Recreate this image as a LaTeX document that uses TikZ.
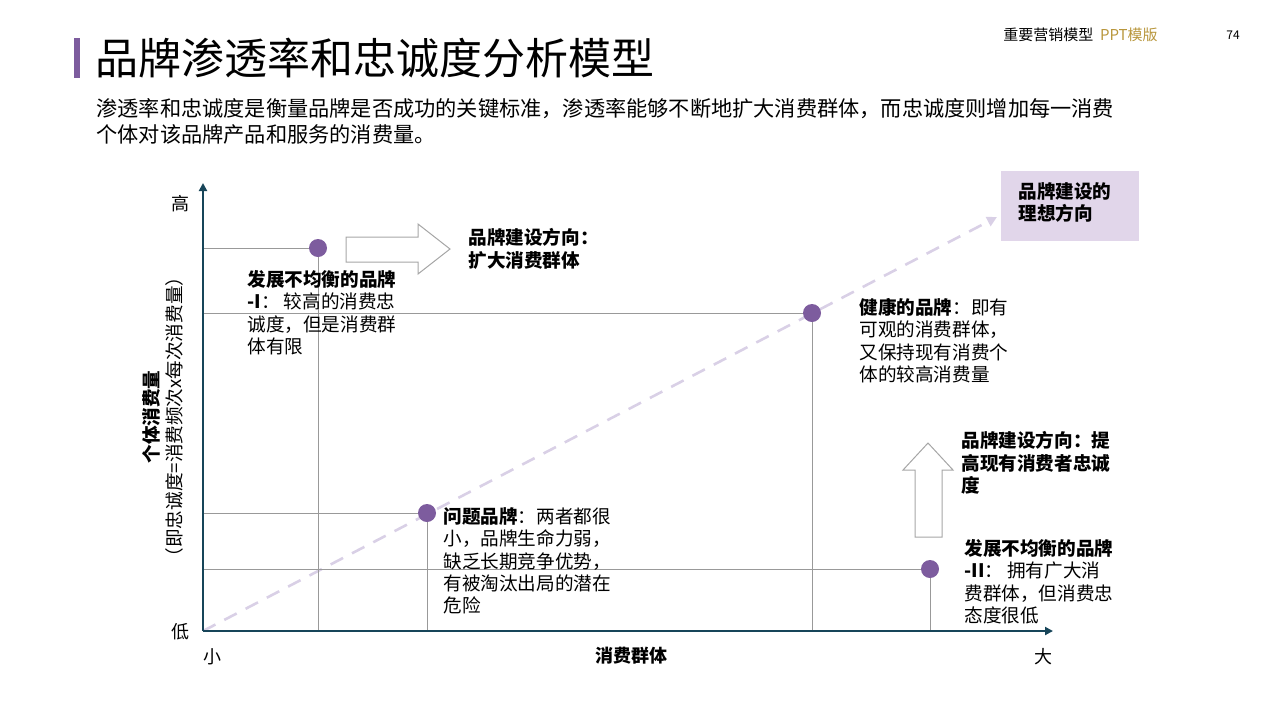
\documentclass[tikz,border=0pt]{standalone}
\usepackage{fontspec}
\setmainfont{Noto Sans CJK SC}
\usepackage{tikz}
\usetikzlibrary{positioning,arrows.meta}
\definecolor{axisblue}{RGB}{23,69,89}
\definecolor{dotpurple}{RGB}{125,92,158}
\definecolor{dashpurple}{RGB}{217,208,230}
\definecolor{boxpurple}{RGB}{225,214,234}
\definecolor{goldtxt}{RGB}{184,150,60}
\tikzset{
  chartpic/.style={x=0.5pt,y=-0.5pt}
  ,dot/.style={circle,fill=dotpurple,inner sep=0pt,minimum size=9pt}
  ,guide/.style={draw=gray!80,line width=.4pt}
  ,axis/.style={draw=axisblue,line width=1.3pt,-{Triangle[length=4pt,width=4pt]}}
  ,note/.style={anchor=north west,inner sep=0pt,align=left,
    font=\fontsize{9.3}{11.2}\selectfont}
  ,blockarrow/.style={draw=gray!70,line width=.5pt,fill=white}
}
\begin{document}
\begin{tikzpicture}[chartpic]
  \useasboundingbox (0,0) rectangle (1280,720);
  % header
  \fill[dotpurple] (74,38) rectangle (80,78);
  \node[anchor=west,inner sep=0pt,font=\fontsize{21.5}{25}\selectfont] (title) at (95,58) {品牌渗透率和忠诚度分析模型};
  \node[anchor=west,inner sep=0pt,font=\fontsize{7.5}{9}\selectfont] (brand) at (1003,35) {重要营销模型\ \ \textcolor{goldtxt}{PPT模版}};
  \node[anchor=west,inner sep=0pt,font=\fontsize{6}{8}\selectfont] (page) at (1226,35) {74};
  \node[anchor=north west,inner sep=0pt,align=left,font=\fontsize{10.6}{13}\selectfont] (intro) at (96,98)
    {渗透率和忠诚度是衡量品牌是否成功的关键标准，渗透率能够不断地扩大消费群体，而忠诚度则增加每一消费\\个体对该品牌产品和服务的消费量。};

  % axes
  \coordinate (origin) at (203,631);
  \coordinate (ytop) at (203,183);
  \coordinate (xend) at (1053,631);
  \coordinate (ideal) at (997,217);
  \draw[dashpurple,line width=1.3pt,dash pattern=on 7pt off 5pt,-{Triangle[length=5pt,width=5pt]}] (origin) -- (ideal);

  % brands
  \node[dot] (unevenA) at (318,248) {};
  \node[dot] (healthy) at (812,313) {};
  \node[dot] (problem) at (427,513) {};
  \node[dot] (unevenB) at (930,569) {};
  \foreach \b in {unevenA,healthy,problem,unevenB}{
    \draw[guide] (origin |- \b) -- (\b.west);
    \draw[guide] (\b.south) -- (\b |- origin);
  }
  \draw[axis] (origin) -- (ytop);
  \draw[axis] (origin) -- (xend);

  % axis labels
  \node[font=\fontsize{9}{10}\selectfont] (hi) at (180,204) {高};
  \node[font=\fontsize{9}{10}\selectfont] (lo) at (180,632) {低};
  \node[font=\fontsize{9}{10}\selectfont] (sm) at (212,657) {小};
  \node[font=\fontsize{9}{10}\selectfont] (bg) at (1043,657) {大};
  \node[font=\bfseries\fontsize{9}{10}\selectfont] (xlab) at (631,656) {消费群体};
  \node[rotate=90,align=center,font=\fontsize{9.3}{11.5}\selectfont] (ylab) at (163,417)
    {\textbf{个体消费量}\\（即忠诚度=消费频次x每次消费量）};

  % ideal direction box
  \node[fill=boxpurple,minimum width=69pt,minimum height=35pt,anchor=north west] (idealbox) at (1001,171) {};
  \node[note,font=\bfseries\fontsize{9.3}{11.2}\selectfont] (idealtxt) at (1018,182) {品牌建设的\\理想方向};

  % block arrows
  \draw[blockarrow] (346,237) -- (418,237) -- (418,224) -- (450,249) -- (418,274) -- (418,262) -- (346,262) -- cycle;
  \draw[blockarrow] (915,537) -- (915,470) -- (903,470) -- (928,443) -- (953,470) -- (942,470) -- (942,537) -- cycle;

  % notes
  \node[note,font=\bfseries\fontsize{9.3}{11.2}\selectfont] (dirA) at (468,228) {品牌建设方向：\\扩大消费群体};
  \node[note,font=\bfseries\fontsize{9.3}{11.2}\selectfont] (dirB) at (961,431) {品牌建设方向：提\\高现有消费者忠诚\\度};
  \node[note] (noteA) at (247,270) {\textbf{发展不均衡的品牌}\\\textbf{-I}：\ 较高的消费忠\\诚度，但是消费群\\体有限};
  \node[note] (noteH) at (859,298) {\textbf{健康的品牌}：即有\\可观的消费群体，\\又保持现有消费个\\体的较高消费量};
  \node[note] (noteP) at (443,507) {\textbf{问题品牌}：两者都很\\小，品牌生命力弱，\\缺乏长期竞争优势，\\有被淘汰出局的潜在\\危险};
  \node[note] (noteB) at (964,539) {\textbf{发展不均衡的品牌}\\\textbf{-II}：\ 拥有广大消\\费群体，但消费忠\\态度很低};
\end{tikzpicture}
\end{document}
